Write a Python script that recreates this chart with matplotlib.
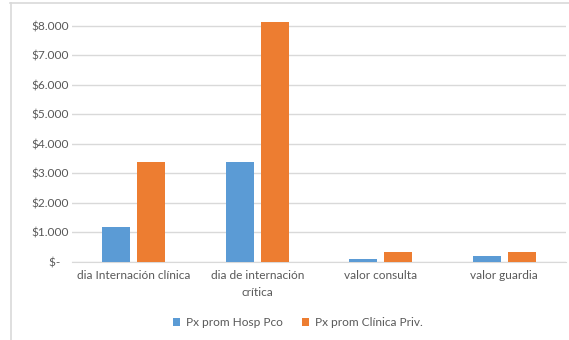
import matplotlib
matplotlib.use('Agg')
import matplotlib.pyplot as plt
from matplotlib.lines import Line2D

plt.rcParams['font.family'] = ['Lato', 'DejaVu Sans']

categorias = ['dia Internación clínica', 'dia de internación\ncrítica',
              'valor consulta', 'valor guardia']
hosp_pco = [1200, 3400, 90, 200]
clinica_priv = [3380, 8130, 330, 330]
series = ['Px prom Hosp Pco', 'Px prom Clínica Priv.']
y_ticks = [0, 1000, 2000, 3000, 4000, 5000, 6000, 7000, 8000]
y_labels = ['$-   ', '$1.000', '$2.000', '$3.000', '$4.000',
            '$5.000', '$6.000', '$7.000', '$8.000']

azul = '#5B9BD5'
naranja = '#ED7D31'
gris = '#595959'
grilla = '#D9D9D9'

W, H = 569, 340
fig = plt.figure(figsize=(W / 100, H / 100), dpi=100)
ax = fig.add_axes([72 / W, 1 - 262 / H, 494 / W, 242 / H])

x = range(len(categorias))
ancho = 0.226
sep = 0.028
ax.bar([i - ancho / 2 - sep for i in x], hosp_pco, ancho, color=azul,
       label=series[0], zorder=3)
ax.bar([i + ancho / 2 + sep for i in x], clinica_priv, ancho, color=naranja,
       label=series[1], zorder=3)

ax.set_xlim(-0.5, len(categorias) - 0.5)
ax.set_ylim(0, 8200)
ax.set_yticks(y_ticks)
ax.set_yticklabels(y_labels)
ax.set_xticks(list(x))
ax.set_xticklabels(categorias, linespacing=1.6)
ax.tick_params(axis='both', length=0, labelsize=8.6, colors=gris)
ax.tick_params(axis='y', pad=2)
ax.tick_params(axis='x', pad=6)
for t in ax.get_yticklabels():
    t.set_ha('right')

ax.grid(axis='y', color=grilla, linewidth=1, zorder=0)
for s in ['top', 'right', 'left']:
    ax.spines[s].set_visible(False)
ax.spines['bottom'].set_color(grilla)

# borde del área del gráfico
fig.add_artist(Line2D([10.5 / W, 10.5 / W], [0, 1 - 2.5 / H], color=grilla,
                      linewidth=1.2))
fig.add_artist(Line2D([10 / W, 1], [1 - 2.5 / H, 1 - 2.5 / H], color=grilla,
                      linewidth=1.2))

fig.legend(loc='center', bbox_to_anchor=(298 / W, 1 - 323 / H), ncol=2,
           frameon=False, fontsize=8.6, labelcolor=gris, handlelength=0.6,
           handleheight=0.6, handletextpad=0.5, columnspacing=1.6)

fig.savefig('out.png', dpi=100)
